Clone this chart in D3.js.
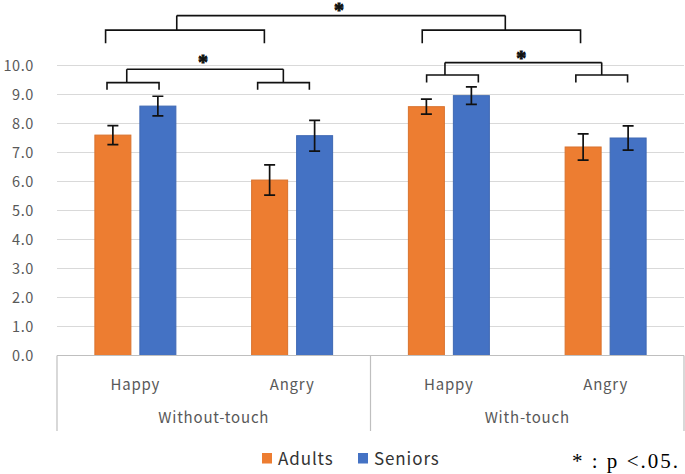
<!DOCTYPE html>
<html><head><meta charset="utf-8">
<script src="https://cdn.jsdelivr.net/npm/d3@7"></script>
<style>html,body{margin:0;padding:0;background:#fff;}svg{display:block;}</style>
</head><body>
<svg id="chart" width="685" height="474"></svg>
<script>
// ---- data ----
const groups = ["Without-touch", "With-touch"];
const emotions = ["Happy", "Angry"];
const series = ["Adults", "Seniors"];
const adultsMean = [7.60, 6.05, 8.58, 7.19];
const seniorsMean = [8.60, 7.58, 8.96, 7.50];
const adultsErr = [0.33, 0.52, 0.26, 0.45];
const seniorsErr = [0.34, 0.53, 0.30, 0.42];
const yTicks = [0, 1, 2, 3, 4, 5, 6, 7, 8, 9, 10];
const colors = ["#ED7D31", "#4472C4"];
const noteText = "* : p <.05.";
// significance brackets (x in category units 0..4, y in data units)
const bracketLeft = [[0.319, 0.651, 0.445], [2.358, 2.688, 2.475], [0.31, 1.323, 0.764]];
const bracketRight = [[1.28, 1.61, 1.444], [3.31, 3.64, 3.475], [2.33, 3.34, 2.86]];
const bracketSubY = [9.41, 9.67, 11.22];
const bracketBottom = [9.16, 9.41, 10.77];
const bracketTopY = [9.87, 10.1, 11.72];
const starY = [10.2, 10.36, 12.0];

// ---- build ----
const cats = [];
groups.forEach(g => emotions.forEach(e => cats.push(g + "|" + e)));
const values = [adultsMean, seniorsMean];
const errs = [adultsErr, seniorsErr];
const rows = [];
cats.forEach((c, i) => series.forEach((s, j) => rows.push({cat: c, s, j, v: values[j][i], e: errs[j][i]})));

const svg = d3.select("#chart");
const left = 57, right = 684;
const x0 = d3.scaleBand().domain(cats).range([left, right]).padding(0);
const x1 = d3.scaleBand().domain(series).range([0, x0.bandwidth()]).paddingInner(0.2).paddingOuter(0.842);
const y = d3.scaleLinear().domain([0, 10]).range([355.5, 65.5]);
const xc = d3.scaleLinear().domain([0, 4]).range([left, right]);

// gridlines
svg.append("g").selectAll("line").data(yTicks.filter(t => t > 0)).join("line")
  .attr("x1", left).attr("x2", right)
  .attr("y1", d => y(d)).attr("y2", d => y(d))
  .attr("stroke", "#D9D9D9").attr("stroke-width", 1.2);

// y tick labels
svg.append("g").selectAll("text").data(yTicks).join("text")
  .attr("x", 34).attr("y", d => y(d) + 5)
  .attr("text-anchor", "end")
  .attr("font-family", "'Noto Sans CJK JP', 'Noto Sans', sans-serif")
  .attr("font-size", 14.5).attr("letter-spacing", 0.6)
  .attr("fill", "#595959")
  .text(d => d.toFixed(1));

// bars
svg.append("g").selectAll("rect").data(rows).join("rect")
  .attr("x", d => x0(d.cat) + x1(d.s))
  .attr("y", d => y(d.v))
  .attr("width", x1.bandwidth())
  .attr("height", d => y(0) - y(d.v))
  .attr("fill", d => colors[d.j])
  .attr("stroke", d => d3.color(colors[d.j]).darker(0.25))
  .attr("stroke-width", 1);

// error bars
const eg = svg.append("g").attr("stroke", "#111").attr("stroke-width", 1.7).attr("fill", "none");
eg.selectAll("path").data(rows).join("path")
  .attr("d", d => {
    const cx = x0(d.cat) + x1(d.s) + x1.bandwidth() / 2;
    const yt = y(d.v + d.e), yb = y(d.v - d.e);
    return `M${cx - 5.5},${yt}H${cx + 5.5}M${cx},${yt}V${yb}M${cx - 5.5},${yb}H${cx + 5.5}`;
  });

// axis line and category box
const axisG = svg.append("g").attr("stroke", "#BFBFBF").attr("stroke-width", 1.2);
axisG.append("line").attr("x1", left).attr("x2", right).attr("y1", y(0)).attr("y2", y(0));
const dividers = [left, x0(cats[2]), right];
axisG.selectAll("line.div").data(dividers).join("line").attr("class", "div")
  .attr("x1", d => d).attr("x2", d => d).attr("y1", y(0)).attr("y2", 431);

const labelFont = "'Noto Sans CJK JP', 'Noto Sans', sans-serif";
svg.append("g").selectAll("text").data(cats).join("text")
  .attr("x", d => x0(d) + x0.bandwidth() / 2).attr("y", 390)
  .attr("text-anchor", "middle").attr("font-family", labelFont)
  .attr("font-size", 15).attr("letter-spacing", 0.8).attr("fill", "#595959")
  .text(d => d.split("|")[1]);
svg.append("g").selectAll("text").data(groups).join("text")
  .attr("x", g => x0(g + "|" + emotions[0]) + x0.bandwidth())
  .attr("y", 423)
  .attr("text-anchor", "middle").attr("font-family", labelFont)
  .attr("font-size", 15).attr("letter-spacing", 0.8).attr("fill", "#595959")
  .text(g => g);

// brackets
const bg = svg.append("g").attr("stroke", "#111").attr("stroke-width", 1.6).attr("fill", "none");
bracketSubY.forEach((sy, i) => {
  const L = bracketLeft[i], R = bracketRight[i];
  const p = [L, R].map(b => `M${xc(b[0])},${y(bracketBottom[i])}V${y(sy)}H${xc(b[1])}V${y(bracketBottom[i])}M${xc(b[2])},${y(sy)}V${y(bracketTopY[i])}`).join("");
  bg.append("path").attr("d", p + `M${xc(L[2])},${y(bracketTopY[i])}H${xc(R[2])}`);
  svg.append("text")
    .attr("x", (xc(L[2]) + xc(R[2])) / 2 - 2)
    .attr("y", y(starY[i]) + 9.5)
    .attr("text-anchor", "middle")
    .attr("font-family", "'Liberation Serif', serif").attr("font-weight", "bold")
    .attr("font-size", 20).attr("fill", "#111")
    .attr("stroke", "#111").attr("stroke-width", 0.9)
    .text("*");
});

// legend
const lg = svg.append("g");
const legX = [262, 358];
series.forEach((s, j) => {
  lg.append("rect").attr("x", legX[j]).attr("y", 453).attr("width", 10).attr("height", 10.5).attr("fill", colors[j]);
  lg.append("text").attr("x", legX[j] + 16).attr("y", 465)
    .attr("font-family", labelFont).attr("font-size", 17).attr("letter-spacing", 0.9)
    .attr("fill", "#333").text(s);
});

// note
svg.append("text").attr("x", 572).attr("y", 468)
  .attr("font-family", "'Liberation Serif', serif").attr("font-size", 21)
  .attr("fill", "#000").attr("xml:space", "preserve")
  .attr("textLength", 106).attr("lengthAdjust", "spacing")
  .text(noteText);
</script>
</body></html>
